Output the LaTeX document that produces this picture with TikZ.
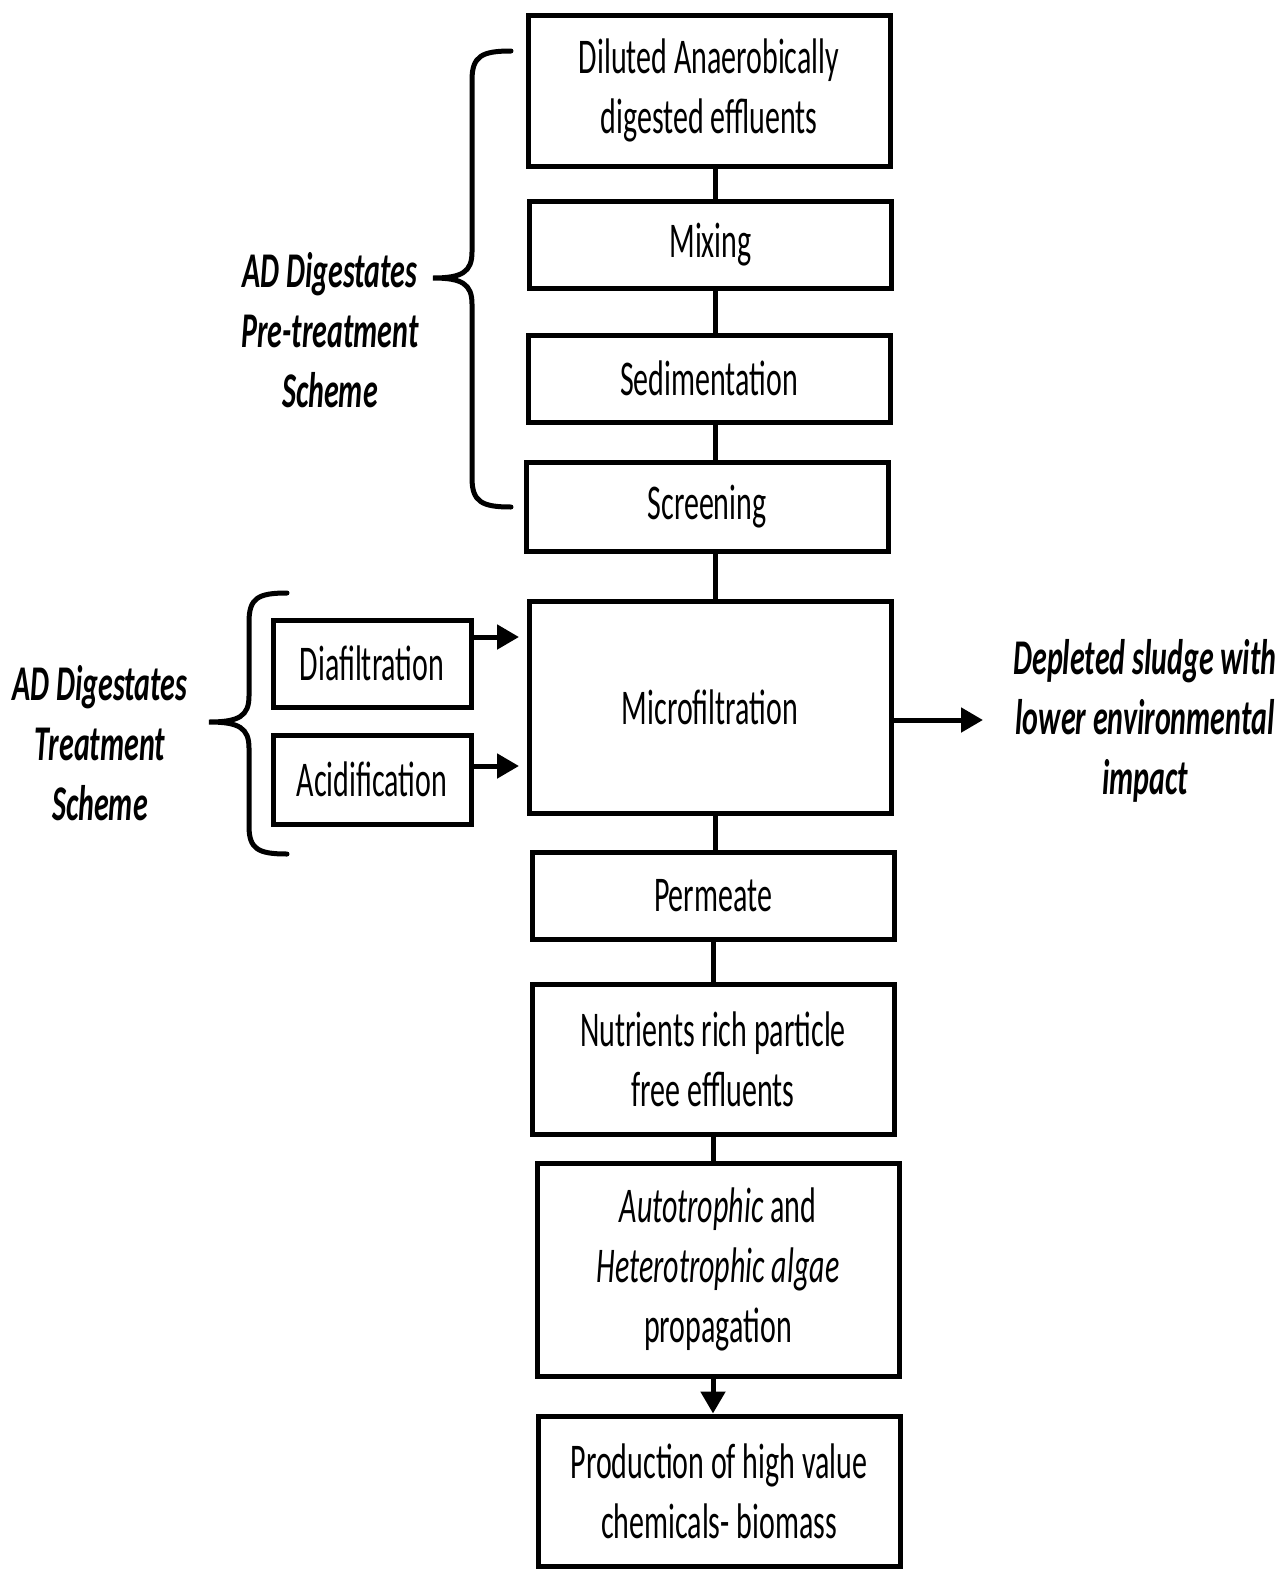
\documentclass[tikz,border=0pt]{standalone}
\usepackage{fontspec}
\setmainfont{Carlito}[FakeStretch=0.6]
\usetikzlibrary{arrows.meta,calc}
\begin{document}
\begin{tikzpicture}[x=1pt,y=-1pt,
  every node/.style={font=\fontsize{50}{60}\selectfont, align=center},
  box/.style={draw, line width=5pt, minimum width=362pt, inner sep=0pt},
  sbox/.style={draw, line width=5pt, minimum width=198pt, inner sep=0pt},
  lab/.style={font=\fontsize{50}{60}\selectfont\bfseries\itshape, align=center},
  conn/.style={line width=5pt},
  arr/.style={line width=5pt, -{Triangle[length=22pt,width=24pt]}},
  brace/.style={line width=5pt, line cap=round}]
\useasboundingbox (0,0) rectangle (1285,1569);
\fill[white] (0,0) rectangle (1285,1569);

\node[box, minimum height=151pt] (dil) at (709,90.5) {Diluted Anaerobically\\digested effluents};
\node[box, minimum height=87pt] (mix) at (710.5,244.5) {Mixing};
\node[box, minimum height=87pt] (sed) at (709,378.5) {Sedimentation};
\node[box, minimum height=89pt] (scr) at (707,506.5) {Screening};
\node[box, minimum height=212pt] (mic) at (710,707) {Microfiltration};
\node[box, minimum height=87pt] (per) at (713,895.5) {Permeate};
\node[box, minimum height=150pt] (nut) at (713,1059) {Nutrients rich particle\\free effluents};
\node[box, minimum height=213pt] (aut) at (718,1269.5) {\textit{Autotrophic} and\\\textit{Heterotrophic algae}\\propagation};
\node[box, minimum height=150pt] (pro) at (719,1491) {Production of high value\\chemicals- biomass};

\node[sbox, minimum height=87pt] (dia) at (372,663.5) {Diafiltration};
\node[sbox, minimum height=89pt] (aci) at (372,779.5) {Acidification};

\node[lab] (pre) at (330,330) {AD Digestates\\Pre-treatment\\Scheme};
\node[lab] (trt) at (100,743) {AD Digestates\\Treatment\\Scheme};
\node[lab] (slu) at (1145,721) {Depleted sludge with\\lower environmental\\impact};

\coordinate (cx) at (715,0);
\coordinate (cx2) at (713,0);
\draw[conn] (dil.south -| cx) -- (mix.north -| cx);
\draw[conn] (mix.south -| cx) -- (sed.north -| cx);
\draw[conn] (sed.south -| cx) -- (scr.north -| cx);
\draw[conn] (scr.south -| cx) -- (mic.north -| cx);
\draw[conn] (mic.south -| cx) -- (per.north -| cx);
\draw[conn] (per.south -| cx2) -- (nut.north -| cx2);
\draw[conn] (nut.south -| cx2) -- (aut.north -| cx2);
\draw[arr] (aut.south -| cx2) -- (pro.north -| cx2);

\coordinate (diaend) at (519,637);
\coordinate (aciend) at (519,766);
\coordinate (sluend) at (983,720);
\draw[arr] (dia.east |- diaend) -- (diaend);
\draw[arr] (aci.east |- aciend) -- (aciend);
\draw[arr] (mic.east |- sluend) -- (sluend);

% braces
\draw[brace] (511,51) .. controls (482,51) and (472,56) .. (472,80) -- (472,252)
  .. controls (472,272) and (462,278) .. (433,278)
  .. controls (462,278) and (472,284) .. (472,304) -- (472,478)
  .. controls (472,502) and (482,507) .. (511,507);
\draw[brace] (287,593) .. controls (258,593) and (249,598) .. (249,622) -- (249,696)
  .. controls (249,716) and (239,722) .. (209,722)
  .. controls (239,722) and (249,728) .. (249,748) -- (249,826)
  .. controls (249,849) and (258,854) .. (287,854);
\end{tikzpicture}
\end{document}
